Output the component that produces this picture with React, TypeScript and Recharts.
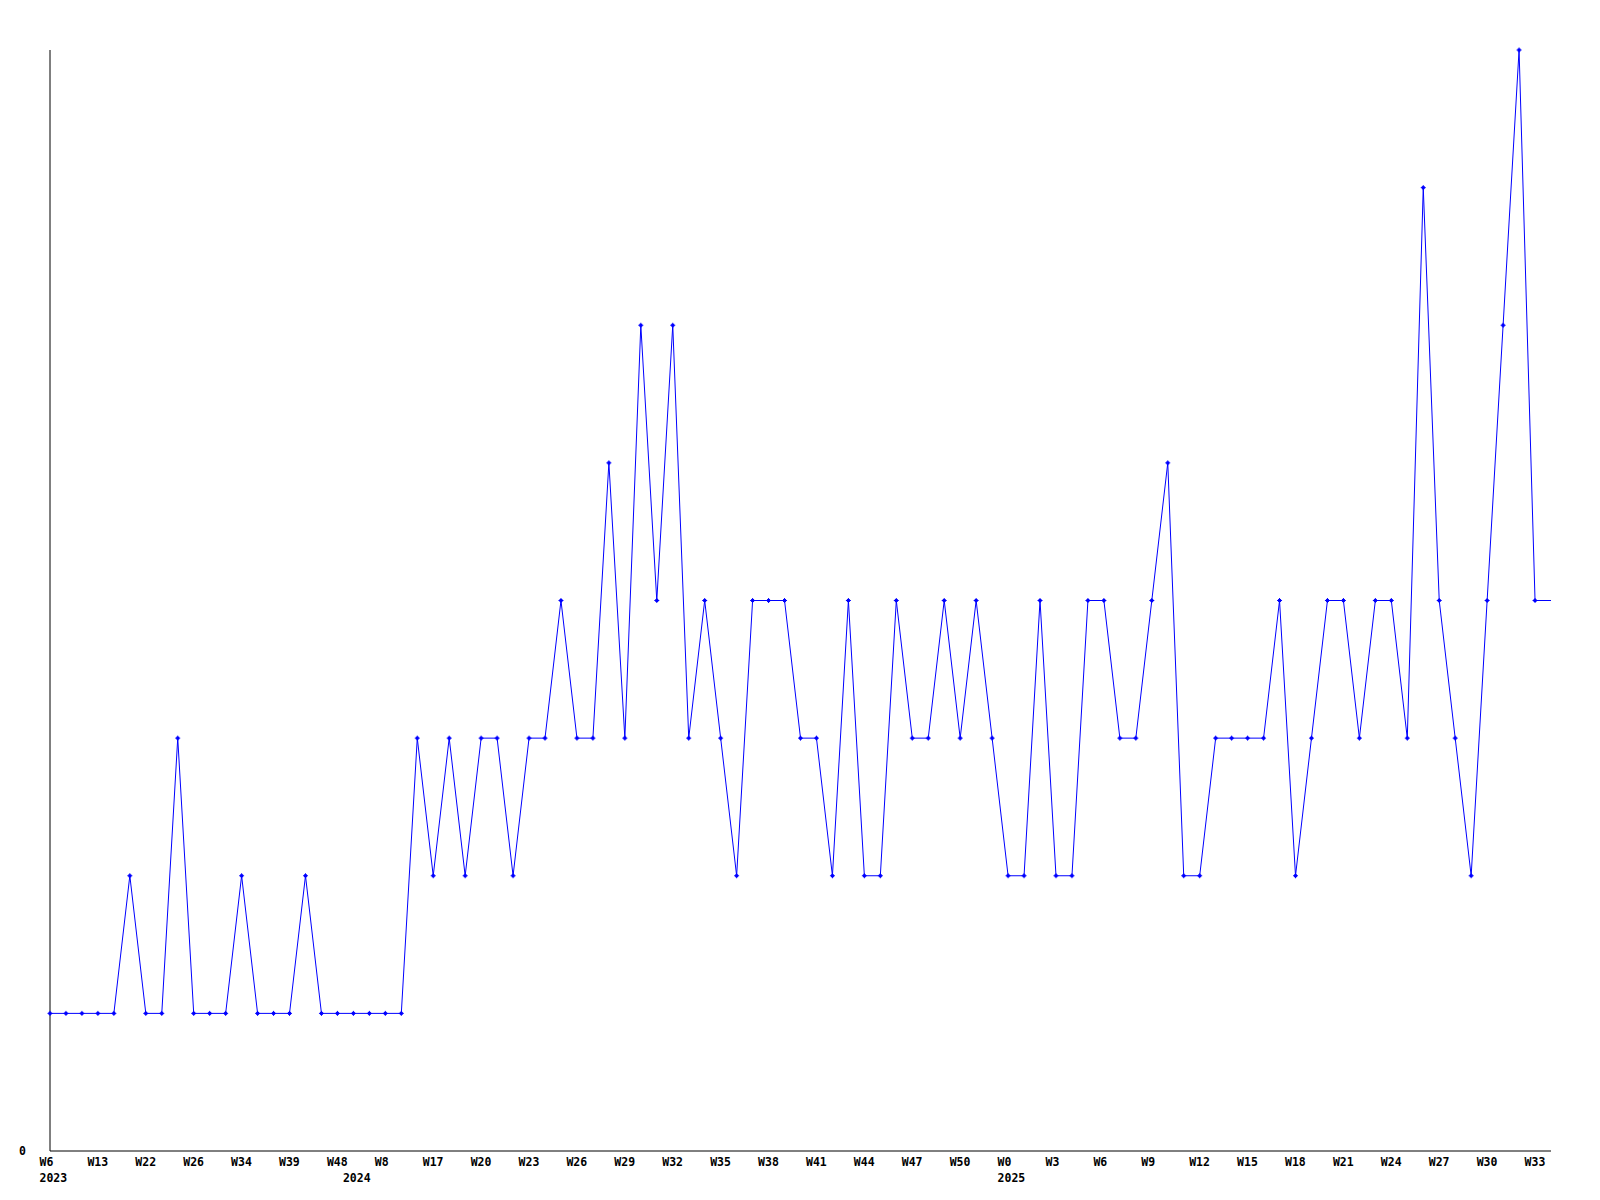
import React from 'react';
import { LineChart, Line, XAxis, YAxis } from 'recharts';

// weekly counts, one per point (last point is the open current week, drawn without marker)
const values = [
  1, 1, 1, 1, 1, 2, 1, 1, 3, 1,
  1, 1, 2, 1, 1, 1, 2, 1, 1, 1,
  1, 1, 1, 3, 2, 3, 2, 3, 3, 2,
  3, 3, 4, 3, 3, 5, 3, 6, 4, 6,
  3, 4, 3, 2, 4, 4, 4, 3, 3, 2,
  4, 2, 2, 4, 3, 3, 4, 3, 4, 3,
  2, 2, 4, 2, 2, 4, 4, 3, 3, 4,
  5, 2, 2, 3, 3, 3, 3, 4, 2, 3,
  4, 4, 3, 4, 4, 3, 7, 4, 3, 2,
  4, 6, 8, 4, 4,
];

// a week label on every third point
const weekLabels = [
  'W6', 'W13', 'W22', 'W26', 'W34', 'W39', 'W48', 'W8', 'W17', 'W20', 'W23',
  'W26', 'W29', 'W32', 'W35', 'W38', 'W41', 'W44', 'W47', 'W50', 'W0', 'W3',
  'W6', 'W9', 'W12', 'W15', 'W18', 'W21', 'W24', 'W27', 'W30', 'W33',
];
const yearLabels = ['2023', '2024', '2025'];
const yearPositions = [0, 19, 60];

const LABEL_STEP = 3;
const FONT = '"DejaVu Sans Mono", monospace';

const data = values.map((v, i) => ({ i, v }));
const xTicks = Array.from(
  new Set([...weekLabels.map((_, k) => k * LABEL_STEP), ...yearPositions])
).sort((a, b) => a - b);

type TickProps = { x?: number; y?: number; payload?: { value: number } };

const XTick = ({ x = 0, y = 0, payload }: TickProps) => {
  const i = payload ? payload.value : 0;
  const week = i % LABEL_STEP === 0 ? weekLabels[i / LABEL_STEP] : undefined;
  const yi = yearPositions.indexOf(i);
  return (
    <g>
      {week && (
        <text x={x - 10.5} y={y} dy={14.5} textAnchor="start" fontFamily={FONT} fontWeight="bold" fontSize={11.5} fill="#000">
          {week}
        </text>
      )}
      {yi >= 0 && (
        <text x={x - 10.5} y={y} dy={30.5} textAnchor="start" fontFamily={FONT} fontWeight="bold" fontSize={11.5} fill="#000">
          {yearLabels[yi]}
        </text>
      )}
    </g>
  );
};

type DotProps = { cx?: number; cy?: number; index?: number };

const Marker = ({ cx = 0, cy = 0, index = 0 }: DotProps) => {
  if (index === values.length - 1) return <g key={index} />;
  return (
    <g key={index}>
      <rect x={cx - 1.5} y={cy - 1.5} width={3} height={3} fill="#0000ff" />
      <path d={`M${cx - 2.5},${cy}H${cx + 2.5}M${cx},${cy - 2.5}V${cy + 2.5}`} stroke="#0000ff" strokeWidth={1} />
    </g>
  );
};

export default function App() {
  return (
    <div style={{ position: 'absolute', left: 0, top: 0, width: 1600, height: 1200, background: '#fff' }}>
      <LineChart width={1600} height={1200} data={data} margin={{ top: 50, right: 49, bottom: 0, left: 0 }}>
        <XAxis
          dataKey="i"
          type="number"
          domain={[0, values.length - 1]}
          ticks={xTicks}
          interval={0}
          height={49}
          tickLine={false}
          tickSize={0}
          tickMargin={0}
          axisLine={{ stroke: '#000', strokeWidth: 1 }}
          tick={<XTick />}
        />
        <YAxis
          type="number"
          domain={[0, 8]}
          ticks={[0]}
          width={50}
          tickLine={false}
          tickSize={0}
          tickMargin={24}
          axisLine={{ stroke: '#000', strokeWidth: 1 }}
          tick={{ fill: '#000', fontFamily: FONT, fontWeight: 'bold', fontSize: 11.5 }}
        />
        <Line
          type="linear"
          dataKey="v"
          stroke="#0000ff"
          strokeWidth={1}
          dot={(p: DotProps) => <Marker key={p.index} {...p} />}
          activeDot={false}
          isAnimationActive={false}
        />
      </LineChart>
    </div>
  );
}
